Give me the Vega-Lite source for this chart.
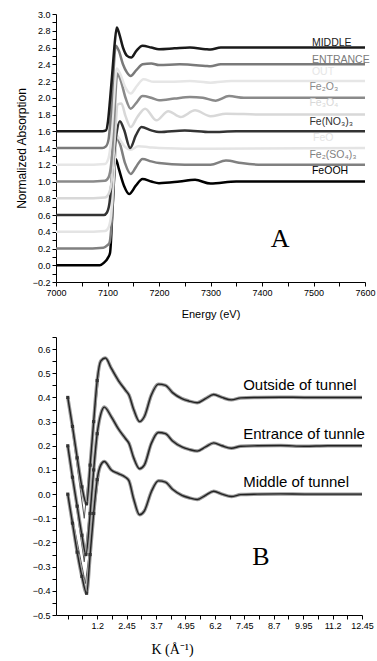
{
  "$schema": "https://vega.github.io/schema/vega-lite/v6.json",
  "background": "white",
  "padding": {"left": 15, "top": 10, "right": 5, "bottom": 5},
  "spacing": 14,
  "config": {
    "view": {"stroke": null},
    "axis": {"grid": false, "domainColor": "#000", "tickColor": "#000", "labelColor": "#000", "titleColor": "#000",
      "labelFont": "Liberation Sans Narrow, Liberation Sans", "labelFontSize": 9, "titleFont": "Liberation Sans",
      "titleFontWeight": "normal", "titleFontSize": 11, "labelPadding": 2, "labelOverlap": false, "labelFlush": false, "tickCount": 200}
  },
  "datasets": {
    "xanes": [
      {"sample":"FeOOH","E":7000,"mu":0.0},{"sample":"FeOOH","E":7050,"mu":0.0},{"sample":"FeOOH","E":7085,"mu":0.0},{"sample":"FeOOH","E":7093,"mu":0.03},{"sample":"FeOOH","E":7100,"mu":0.08},{"sample":"FeOOH","E":7105,"mu":0.15},{"sample":"FeOOH","E":7110,"mu":0.7},{"sample":"FeOOH","E":7116,"mu":1.27},{"sample":"FeOOH","E":7122,"mu":1.15},{"sample":"FeOOH","E":7132,"mu":0.95},{"sample":"FeOOH","E":7142,"mu":0.85},{"sample":"FeOOH","E":7155,"mu":0.95},{"sample":"FeOOH","E":7168,"mu":1.03},{"sample":"FeOOH","E":7185,"mu":1.0},{"sample":"FeOOH","E":7200,"mu":0.98},{"sample":"FeOOH","E":7240,"mu":1.0},{"sample":"FeOOH","E":7270,"mu":1.02},{"sample":"FeOOH","E":7300,"mu":0.975},{"sample":"FeOOH","E":7350,"mu":1.0},{"sample":"FeOOH","E":7600,"mu":1.0},
      {"sample":"Fe2(SO4)3","E":7000,"mu":0.2},{"sample":"Fe2(SO4)3","E":7050,"mu":0.2},{"sample":"Fe2(SO4)3","E":7092,"mu":0.21},{"sample":"Fe2(SO4)3","E":7100,"mu":0.24},{"sample":"Fe2(SO4)3","E":7104,"mu":0.27},{"sample":"Fe2(SO4)3","E":7108,"mu":0.5},{"sample":"Fe2(SO4)3","E":7113,"mu":1.1},{"sample":"Fe2(SO4)3","E":7117,"mu":1.52},{"sample":"Fe2(SO4)3","E":7124,"mu":1.45},{"sample":"Fe2(SO4)3","E":7134,"mu":1.22},{"sample":"Fe2(SO4)3","E":7145,"mu":1.09},{"sample":"Fe2(SO4)3","E":7156,"mu":1.18},{"sample":"Fe2(SO4)3","E":7168,"mu":1.27},{"sample":"Fe2(SO4)3","E":7185,"mu":1.24},{"sample":"Fe2(SO4)3","E":7200,"mu":1.22},{"sample":"Fe2(SO4)3","E":7250,"mu":1.2},{"sample":"Fe2(SO4)3","E":7300,"mu":1.2},{"sample":"Fe2(SO4)3","E":7330,"mu":1.25},{"sample":"Fe2(SO4)3","E":7360,"mu":1.22},{"sample":"Fe2(SO4)3","E":7400,"mu":1.2},{"sample":"Fe2(SO4)3","E":7600,"mu":1.2},
      {"sample":"FeO","E":7000,"mu":0.4},{"sample":"FeO","E":7050,"mu":0.4},{"sample":"FeO","E":7095,"mu":0.41},{"sample":"FeO","E":7102,"mu":0.45},{"sample":"FeO","E":7107,"mu":0.6},{"sample":"FeO","E":7113,"mu":1.15},{"sample":"FeO","E":7118,"mu":1.55},{"sample":"FeO","E":7124,"mu":1.5},{"sample":"FeO","E":7133,"mu":1.42},{"sample":"FeO","E":7145,"mu":1.38},{"sample":"FeO","E":7160,"mu":1.42},{"sample":"FeO","E":7180,"mu":1.41},{"sample":"FeO","E":7200,"mu":1.4},{"sample":"FeO","E":7300,"mu":1.39},{"sample":"FeO","E":7600,"mu":1.4},
      {"sample":"Fe(NO3)3","E":7000,"mu":0.6},{"sample":"Fe(NO3)3","E":7050,"mu":0.6},{"sample":"Fe(NO3)3","E":7093,"mu":0.6},{"sample":"Fe(NO3)3","E":7099,"mu":0.63},{"sample":"Fe(NO3)3","E":7104,"mu":0.75},{"sample":"Fe(NO3)3","E":7110,"mu":1.15},{"sample":"Fe(NO3)3","E":7117,"mu":1.55},{"sample":"Fe(NO3)3","E":7124,"mu":1.72},{"sample":"Fe(NO3)3","E":7132,"mu":1.62},{"sample":"Fe(NO3)3","E":7144,"mu":1.4},{"sample":"Fe(NO3)3","E":7155,"mu":1.55},{"sample":"Fe(NO3)3","E":7166,"mu":1.65},{"sample":"Fe(NO3)3","E":7185,"mu":1.61},{"sample":"Fe(NO3)3","E":7200,"mu":1.59},{"sample":"Fe(NO3)3","E":7250,"mu":1.61},{"sample":"Fe(NO3)3","E":7300,"mu":1.59},{"sample":"Fe(NO3)3","E":7350,"mu":1.6},{"sample":"Fe(NO3)3","E":7600,"mu":1.6},
      {"sample":"Fe3O4","E":7000,"mu":0.8},{"sample":"Fe3O4","E":7050,"mu":0.8},{"sample":"Fe3O4","E":7095,"mu":0.81},{"sample":"Fe3O4","E":7102,"mu":0.85},{"sample":"Fe3O4","E":7108,"mu":1.0},{"sample":"Fe3O4","E":7114,"mu":1.5},{"sample":"Fe3O4","E":7120,"mu":1.92},{"sample":"Fe3O4","E":7127,"mu":1.93},{"sample":"Fe3O4","E":7135,"mu":1.78},{"sample":"Fe3O4","E":7145,"mu":1.65},{"sample":"Fe3O4","E":7158,"mu":1.77},{"sample":"Fe3O4","E":7173,"mu":1.87},{"sample":"Fe3O4","E":7195,"mu":1.73},{"sample":"Fe3O4","E":7218,"mu":1.84},{"sample":"Fe3O4","E":7242,"mu":1.77},{"sample":"Fe3O4","E":7270,"mu":1.85},{"sample":"Fe3O4","E":7300,"mu":1.78},{"sample":"Fe3O4","E":7330,"mu":1.81},{"sample":"Fe3O4","E":7400,"mu":1.8},{"sample":"Fe3O4","E":7600,"mu":1.8},
      {"sample":"Fe2O3","E":7000,"mu":1.0},{"sample":"Fe2O3","E":7050,"mu":1.0},{"sample":"Fe2O3","E":7095,"mu":1.01},{"sample":"Fe2O3","E":7102,"mu":1.05},{"sample":"Fe2O3","E":7107,"mu":1.2},{"sample":"Fe2O3","E":7113,"mu":1.75},{"sample":"Fe2O3","E":7119,"mu":2.29},{"sample":"Fe2O3","E":7126,"mu":2.2},{"sample":"Fe2O3","E":7135,"mu":2.0},{"sample":"Fe2O3","E":7145,"mu":1.87},{"sample":"Fe2O3","E":7156,"mu":1.94},{"sample":"Fe2O3","E":7168,"mu":2.02},{"sample":"Fe2O3","E":7185,"mu":2.0},{"sample":"Fe2O3","E":7200,"mu":1.97},{"sample":"Fe2O3","E":7230,"mu":1.99},{"sample":"Fe2O3","E":7260,"mu":2.01},{"sample":"Fe2O3","E":7285,"mu":2.0},{"sample":"Fe2O3","E":7310,"mu":1.965},{"sample":"Fe2O3","E":7336,"mu":2.02},{"sample":"Fe2O3","E":7365,"mu":2.0},{"sample":"Fe2O3","E":7400,"mu":2.0},{"sample":"Fe2O3","E":7600,"mu":2.0},
      {"sample":"OUT","E":7000,"mu":1.2},{"sample":"OUT","E":7050,"mu":1.2},{"sample":"OUT","E":7095,"mu":1.21},{"sample":"OUT","E":7102,"mu":1.28},{"sample":"OUT","E":7107,"mu":1.5},{"sample":"OUT","E":7112,"mu":1.95},{"sample":"OUT","E":7118,"mu":2.35},{"sample":"OUT","E":7125,"mu":2.28},{"sample":"OUT","E":7135,"mu":2.12},{"sample":"OUT","E":7145,"mu":2.05},{"sample":"OUT","E":7157,"mu":2.14},{"sample":"OUT","E":7170,"mu":2.22},{"sample":"OUT","E":7190,"mu":2.19},{"sample":"OUT","E":7220,"mu":2.19},{"sample":"OUT","E":7260,"mu":2.2},{"sample":"OUT","E":7300,"mu":2.18},{"sample":"OUT","E":7340,"mu":2.2},{"sample":"OUT","E":7600,"mu":2.2},
      {"sample":"ENTRANCE","E":7000,"mu":1.4},{"sample":"ENTRANCE","E":7050,"mu":1.4},{"sample":"ENTRANCE","E":7090,"mu":1.4},{"sample":"ENTRANCE","E":7097,"mu":1.42},{"sample":"ENTRANCE","E":7102,"mu":1.5},{"sample":"ENTRANCE","E":7106,"mu":1.75},{"sample":"ENTRANCE","E":7111,"mu":2.25},{"sample":"ENTRANCE","E":7116,"mu":2.62},{"sample":"ENTRANCE","E":7122,"mu":2.56},{"sample":"ENTRANCE","E":7130,"mu":2.4},{"sample":"ENTRANCE","E":7138,"mu":2.3},{"sample":"ENTRANCE","E":7145,"mu":2.26},{"sample":"ENTRANCE","E":7156,"mu":2.33},{"sample":"ENTRANCE","E":7168,"mu":2.4},{"sample":"ENTRANCE","E":7185,"mu":2.41},{"sample":"ENTRANCE","E":7200,"mu":2.39},{"sample":"ENTRANCE","E":7240,"mu":2.4},{"sample":"ENTRANCE","E":7290,"mu":2.38},{"sample":"ENTRANCE","E":7300,"mu":2.375},{"sample":"ENTRANCE","E":7320,"mu":2.4},{"sample":"ENTRANCE","E":7400,"mu":2.4},{"sample":"ENTRANCE","E":7500,"mu":2.4},{"sample":"ENTRANCE","E":7600,"mu":2.4},
      {"sample":"MIDDLE","E":7000,"mu":1.6},{"sample":"MIDDLE","E":7050,"mu":1.6},{"sample":"MIDDLE","E":7090,"mu":1.6},{"sample":"MIDDLE","E":7097,"mu":1.61},{"sample":"MIDDLE","E":7101,"mu":1.72},{"sample":"MIDDLE","E":7105,"mu":1.98},{"sample":"MIDDLE","E":7110,"mu":2.35},{"sample":"MIDDLE","E":7114,"mu":2.65},{"sample":"MIDDLE","E":7118,"mu":2.84},{"sample":"MIDDLE","E":7123,"mu":2.76},{"sample":"MIDDLE","E":7130,"mu":2.6},{"sample":"MIDDLE","E":7138,"mu":2.5},{"sample":"MIDDLE","E":7146,"mu":2.48},{"sample":"MIDDLE","E":7156,"mu":2.56},{"sample":"MIDDLE","E":7168,"mu":2.62},{"sample":"MIDDLE","E":7185,"mu":2.6},{"sample":"MIDDLE","E":7200,"mu":2.58},{"sample":"MIDDLE","E":7230,"mu":2.59},{"sample":"MIDDLE","E":7260,"mu":2.6},{"sample":"MIDDLE","E":7290,"mu":2.58},{"sample":"MIDDLE","E":7300,"mu":2.575},{"sample":"MIDDLE","E":7320,"mu":2.6},{"sample":"MIDDLE","E":7400,"mu":2.6},{"sample":"MIDDLE","E":7500,"mu":2.6},{"sample":"MIDDLE","E":7600,"mu":2.6}
    ],
    "xlabels": [
      {"sample":"MIDDLE","label":"MIDDLE","E":7497,"mu":2.62},
      {"sample":"ENTRANCE","label":"ENTRANCE","E":7497,"mu":2.415},
      {"sample":"OUT","label":"OUT","E":7497,"mu":2.27},
      {"sample":"Fe2O3","label":"Fe₂O₃","E":7492,"mu":2.09},
      {"sample":"Fe3O4","label":"Fe₃O₄","E":7492,"mu":1.9},
      {"sample":"Fe(NO3)3","label":"Fe(NO₃)₃","E":7492,"mu":1.67},
      {"sample":"FeO","label":"FeO","E":7499,"mu":1.48},
      {"sample":"Fe2(SO4)3","label":"Fe₂(SO₄)₃","E":7492,"mu":1.28},
      {"sample":"FeOOH","label":"FeOOH","E":7497,"mu":1.09}
    ],
    "exafs": [
      {"sample":"Outside","k":-0.05,"chi":0.4},{"sample":"Outside","k":0.15,"chi":0.28},{"sample":"Outside","k":0.35,"chi":0.15},{"sample":"Outside","k":0.55,"chi":0.03},{"sample":"Outside","k":0.75,"chi":-0.04},{"sample":"Outside","k":0.9,"chi":0.12},{"sample":"Outside","k":1.05,"chi":0.3},{"sample":"Outside","k":1.2,"chi":0.47},{"sample":"Outside","k":1.35,"chi":0.55},{"sample":"Outside","k":1.55,"chi":0.563},{"sample":"Outside","k":1.8,"chi":0.52},{"sample":"Outside","k":2.1,"chi":0.47},{"sample":"Outside","k":2.4,"chi":0.43},{"sample":"Outside","k":2.55,"chi":0.41},{"sample":"Outside","k":2.75,"chi":0.35},{"sample":"Outside","k":3.0,"chi":0.3},{"sample":"Outside","k":3.2,"chi":0.32},{"sample":"Outside","k":3.5,"chi":0.41},{"sample":"Outside","k":3.8,"chi":0.455},{"sample":"Outside","k":4.1,"chi":0.45},{"sample":"Outside","k":4.4,"chi":0.42},{"sample":"Outside","k":4.8,"chi":0.395},{"sample":"Outside","k":5.1,"chi":0.385},{"sample":"Outside","k":5.45,"chi":0.378},{"sample":"Outside","k":5.8,"chi":0.395},{"sample":"Outside","k":6.15,"chi":0.412},{"sample":"Outside","k":6.5,"chi":0.4},{"sample":"Outside","k":6.9,"chi":0.39},{"sample":"Outside","k":7.3,"chi":0.398},{"sample":"Outside","k":8,"chi":0.4},{"sample":"Outside","k":9,"chi":0.401},{"sample":"Outside","k":10,"chi":0.4},{"sample":"Outside","k":11,"chi":0.4},{"sample":"Outside","k":12.45,"chi":0.4},
      {"sample":"Entrance","k":-0.05,"chi":0.2},{"sample":"Entrance","k":0.15,"chi":0.07},{"sample":"Entrance","k":0.35,"chi":-0.05},{"sample":"Entrance","k":0.55,"chi":-0.17},{"sample":"Entrance","k":0.72,"chi":-0.25},{"sample":"Entrance","k":0.9,"chi":-0.08},{"sample":"Entrance","k":1.05,"chi":0.1},{"sample":"Entrance","k":1.2,"chi":0.25},{"sample":"Entrance","k":1.35,"chi":0.33},{"sample":"Entrance","k":1.5,"chi":0.36},{"sample":"Entrance","k":1.8,"chi":0.32},{"sample":"Entrance","k":2.1,"chi":0.27},{"sample":"Entrance","k":2.4,"chi":0.23},{"sample":"Entrance","k":2.55,"chi":0.21},{"sample":"Entrance","k":2.75,"chi":0.15},{"sample":"Entrance","k":3.0,"chi":0.105},{"sample":"Entrance","k":3.2,"chi":0.12},{"sample":"Entrance","k":3.5,"chi":0.21},{"sample":"Entrance","k":3.8,"chi":0.255},{"sample":"Entrance","k":4.1,"chi":0.25},{"sample":"Entrance","k":4.4,"chi":0.22},{"sample":"Entrance","k":4.8,"chi":0.195},{"sample":"Entrance","k":5.1,"chi":0.185},{"sample":"Entrance","k":5.45,"chi":0.178},{"sample":"Entrance","k":5.8,"chi":0.195},{"sample":"Entrance","k":6.15,"chi":0.212},{"sample":"Entrance","k":6.5,"chi":0.2},{"sample":"Entrance","k":6.9,"chi":0.19},{"sample":"Entrance","k":7.3,"chi":0.198},{"sample":"Entrance","k":8,"chi":0.2},{"sample":"Entrance","k":9,"chi":0.201},{"sample":"Entrance","k":10,"chi":0.198},{"sample":"Entrance","k":11,"chi":0.2},{"sample":"Entrance","k":12.45,"chi":0.2},
      {"sample":"Middle","k":-0.05,"chi":0.0},{"sample":"Middle","k":0.15,"chi":-0.12},{"sample":"Middle","k":0.35,"chi":-0.24},{"sample":"Middle","k":0.55,"chi":-0.34},{"sample":"Middle","k":0.75,"chi":-0.41},{"sample":"Middle","k":0.9,"chi":-0.25},{"sample":"Middle","k":1.05,"chi":-0.08},{"sample":"Middle","k":1.2,"chi":0.06},{"sample":"Middle","k":1.35,"chi":0.12},{"sample":"Middle","k":1.5,"chi":0.135},{"sample":"Middle","k":1.8,"chi":0.1},{"sample":"Middle","k":2.1,"chi":0.085},{"sample":"Middle","k":2.4,"chi":0.07},{"sample":"Middle","k":2.55,"chi":0.055},{"sample":"Middle","k":2.75,"chi":-0.02},{"sample":"Middle","k":3.0,"chi":-0.085},{"sample":"Middle","k":3.2,"chi":-0.07},{"sample":"Middle","k":3.5,"chi":0.01},{"sample":"Middle","k":3.8,"chi":0.055},{"sample":"Middle","k":4.1,"chi":0.05},{"sample":"Middle","k":4.4,"chi":0.02},{"sample":"Middle","k":4.8,"chi":-0.005},{"sample":"Middle","k":5.1,"chi":-0.015},{"sample":"Middle","k":5.45,"chi":-0.022},{"sample":"Middle","k":5.8,"chi":-0.005},{"sample":"Middle","k":6.15,"chi":0.012},{"sample":"Middle","k":6.5,"chi":0.0},{"sample":"Middle","k":6.9,"chi":-0.01},{"sample":"Middle","k":7.3,"chi":-0.002},{"sample":"Middle","k":8,"chi":0.0},{"sample":"Middle","k":9,"chi":0.001},{"sample":"Middle","k":10,"chi":0.0},{"sample":"Middle","k":11,"chi":0.0},{"sample":"Middle","k":12.45,"chi":0.0}
    ],
    "fit": [
      {"sample":"Outside","k":-0.05,"chi":0.4},{"sample":"Outside","k":0.65,"chi":-0.1},{"sample":"Outside","k":1.3,"chi":0.52},
      {"sample":"Entrance","k":-0.05,"chi":0.2},{"sample":"Entrance","k":0.65,"chi":-0.28},{"sample":"Entrance","k":1.3,"chi":0.32},
      {"sample":"Middle","k":-0.05,"chi":0.0},{"sample":"Middle","k":0.7,"chi":-0.37},{"sample":"Middle","k":1.3,"chi":0.1}
    ],
    "blabels": [
      {"label":"Outside of tunnel","k":7.4,"chi":0.43},
      {"label":"Entrance of tunnle","k":7.4,"chi":0.23},
      {"label":"Middle of tunnel","k":7.4,"chi":0.03}
    ]
  },
  "vconcat": [
    {
      "width": 309,
      "height": 268,
      "layer": [
        {
          "data": {"name": "xanes"},
          "mark": {"type": "line", "interpolate": "monotone", "strokeWidth": 2.5},
          "encoding": {
            "x": {"field": "E", "type": "quantitative",
              "scale": {"domain": [7000, 7600], "nice": false, "zero": false},
              "axis": {"title": "Energy (eV)", "titlePadding": 11, "labelOverlap": false, "tickCount": 200,
                "values": [7000,7050,7100,7150,7200,7250,7300,7350,7400,7450,7500,7550,7600],
                "labelExpr": "datum.value % 100 == 0 ? format(datum.value, 'd') : ''",
                "tickSize": 4,
                "encode": {
                  "ticks": {"update": {"y2": {"signal": "datum.value % 100 == 0 ? 4 : 2"}}}}}},
            "y": {"field": "mu", "type": "quantitative",
              "scale": {"domain": [-0.2, 3.0], "nice": false, "zero": false},
              "axis": {"title": "Normalized Absorption", "titleFontSize": 12, "labelOverlap": false, "tickCount": 200,
                "values": [-0.2,-0.1,0,0.1,0.2,0.3,0.4,0.5,0.6,0.7,0.8,0.9,1.0,1.1,1.2,1.3,1.4,1.5,1.6,1.7,1.8,1.9,2.0,2.1,2.2,2.3,2.4,2.5,2.6,2.7,2.8,2.9,3.0],
                "labelExpr": "abs(round(datum.value*10)) % 2 == 0 ? format(datum.value, '.1f') : ''",
                "tickSize": 4,
                "encode": {
                  "ticks": {"update": {"x2": {"signal": "abs(round(datum.value*10)) % 2 == 0 ? -4 : -2"}}}}}},
            "color": {"field": "sample", "type": "nominal", "legend": null,
              "scale": {"domain": ["FeOOH","Fe2(SO4)3","FeO","Fe(NO3)3","Fe3O4","Fe2O3","OUT","ENTRANCE","MIDDLE"],
                "range": ["#000000","#808080","#e4e4e4","#333333","#d8d8d8","#8a8a8a","#e6e6e6","#7a7a7a","#1a1a1a"]}}
          }
        },
        {
          "data": {"name": "xlabels"},
          "mark": {"type": "text", "align": "left", "baseline": "alphabetic", "fontSize": 10.5, "font": "Liberation Sans"},
          "encoding": {
            "x": {"field": "E", "type": "quantitative"},
            "y": {"field": "mu", "type": "quantitative"},
            "text": {"field": "label"},
            "color": {"field": "sample", "type": "nominal", "legend": null}
          }
        },
        {
          "data": {"values": [{}]},
          "mark": {"type": "text", "font": "Liberation Serif", "fontSize": 26, "align": "center", "baseline": "middle", "color": "#000"},
          "encoding": {"x": {"datum": 7435}, "y": {"datum": 0.31}, "text": {"value": "A"}}
        }
      ]
    },
    {
      "width": 306,
      "height": 278,
      "layer": [
        {
          "data": {"name": "fit"},
          "mark": {"type": "line", "strokeWidth": 1, "color": "#555"},
          "encoding": {
            "x": {"field": "k", "type": "quantitative",
              "scale": {"domain": [-0.55, 12.45], "nice": false, "zero": false},
              "axis": {"title": "K  (Å⁻¹)", "titleFont": "Liberation Serif", "titleFontSize": 14, "titleX": 116, "titleY": 34, "titleBaseline": "middle", "labelOverlap": false, "tickCount": 200,
                "values": [-0.05,0.575,1.2,1.825,2.45,3.075,3.7,4.325,4.95,5.575,6.2,6.825,7.45,8.075,8.7,9.325,9.95,10.575,11.2,11.825,12.45],
                "labelExpr": "(round((datum.value+0.05)/0.625) % 2 == 0 && datum.value > 0) ? format(datum.value, '~g') : ''",
                "tickSize": 4,
                "encode": {
                  "ticks": {"update": {"y2": {"signal": "round((datum.value+0.05)/0.625) % 2 == 0 ? 4 : 2"}}}}}},
            "y": {"field": "chi", "type": "quantitative",
              "scale": {"domain": [-0.5, 0.65], "nice": false, "zero": false},
              "axis": {"title": null, "labelOverlap": false, "tickCount": 200,
                "values": [-0.5,-0.45,-0.4,-0.35,-0.3,-0.25,-0.2,-0.15,-0.1,-0.05,0,0.05,0.1,0.15,0.2,0.25,0.3,0.35,0.4,0.45,0.5,0.55,0.6,0.65],
                "labelExpr": "abs(round(datum.value*20)) % 2 == 0 ? format(datum.value, '.1f') : ''",
                "tickSize": 4,
                "encode": {
                  "ticks": {"update": {"x2": {"signal": "abs(round(datum.value*20)) % 2 == 0 ? -4 : -2"}}}}}},
            "detail": {"field": "sample"}
          }
        },
        {
          "data": {"name": "exafs"},
          "mark": {"type": "line", "interpolate": "monotone", "strokeWidth": 3.5, "color": "#9a9a9a"},
          "encoding": {
            "x": {"field": "k", "type": "quantitative"},
            "y": {"field": "chi", "type": "quantitative"},
            "detail": {"field": "sample"}
          }
        },
        {
          "data": {"name": "exafs"},
          "mark": {"type": "line", "interpolate": "monotone", "strokeWidth": 1.4, "color": "#222"},
          "encoding": {
            "x": {"field": "k", "type": "quantitative"},
            "y": {"field": "chi", "type": "quantitative"},
            "detail": {"field": "sample"}
          }
        },
        {
          "data": {"name": "exafs"},
          "transform": [{"filter": "datum.k < 1.3"}],
          "mark": {"type": "point", "shape": "square", "size": 10, "filled": true, "color": "#333", "opacity": 1},
          "encoding": {
            "x": {"field": "k", "type": "quantitative"},
            "y": {"field": "chi", "type": "quantitative"}
          }
        },
        {
          "data": {"name": "blabels"},
          "mark": {"type": "text", "align": "left", "baseline": "alphabetic", "fontSize": 15, "font": "Liberation Sans Narrow, Liberation Sans", "color": "#000"},
          "encoding": {
            "x": {"field": "k", "type": "quantitative"},
            "y": {"field": "chi", "type": "quantitative"},
            "text": {"field": "label"}
          }
        },
        {
          "data": {"values": [{}]},
          "mark": {"type": "text", "font": "Liberation Serif", "fontSize": 26, "align": "center", "baseline": "middle", "color": "#000"},
          "encoding": {"x": {"datum": 8.16}, "y": {"datum": -0.26}, "text": {"value": "B"}}
        }
      ]
    }
  ]
}
